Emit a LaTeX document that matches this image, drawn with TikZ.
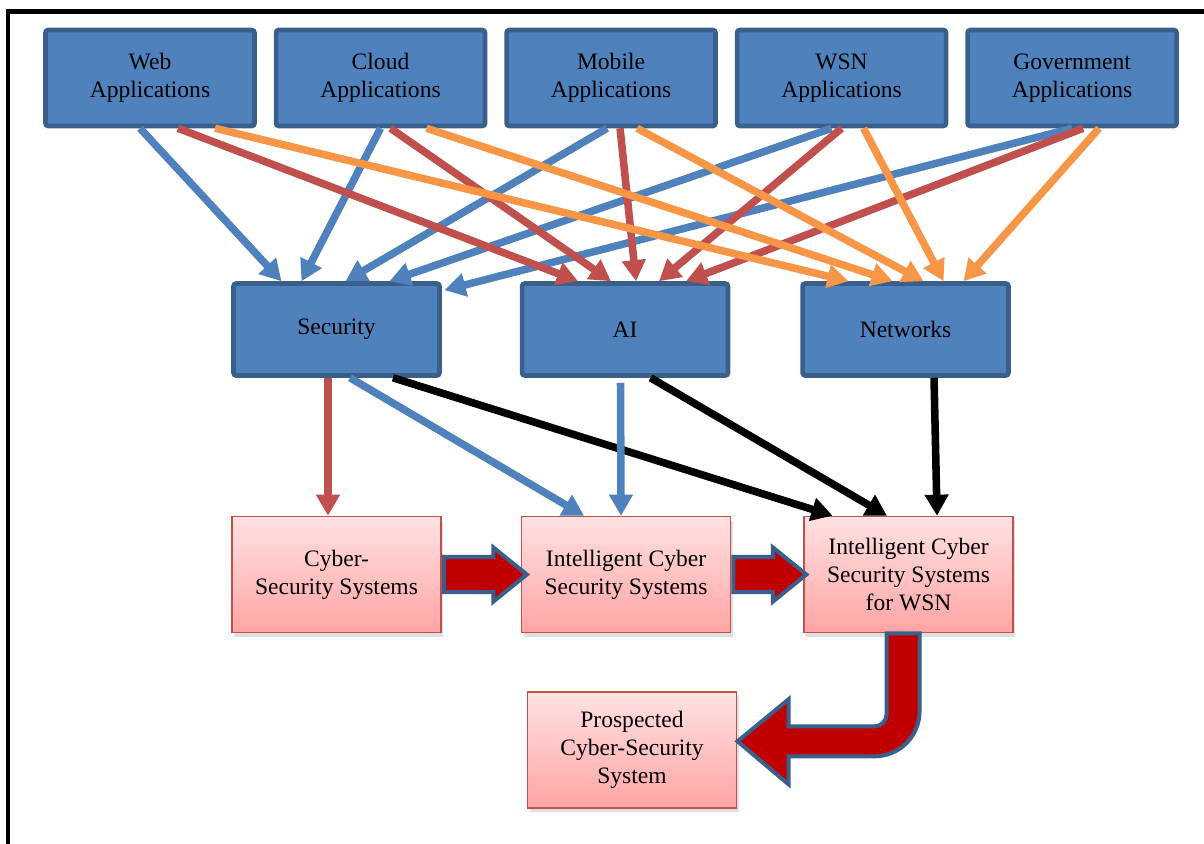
\documentclass[tikz,border=0pt]{standalone}
\usepackage{fontspec}
\setmainfont{Liberation Serif}
\usetikzlibrary{arrows.meta, positioning, calc, shapes.arrows, shadows}
\definecolor{appblue}{RGB}{79,129,189}
\definecolor{appedge}{RGB}{58,95,139}
\definecolor{linkred}{RGB}{192,80,77}
\definecolor{linkorange}{RGB}{247,150,70}
\definecolor{systop}{RGB}{255,226,226}
\definecolor{sysbottom}{RGB}{255,164,164}
\definecolor{blockred}{RGB}{192,0,0}
\newcommand{\boxfont}{\fontsize{13.4}{16}\selectfont}

\begin{document}
\begin{tikzpicture}[
    x=0.02cm, y=-0.02cm,
    appbox/.style={draw=appedge, fill=appblue, line width=2.6pt, rounded corners=1.5pt, minimum width=4.18cm, minimum height=1.92cm, align=center, font=\boxfont},
    fieldbox/.style={appbox, minimum width=4.12cm, minimum height=1.84cm},
    sysbox/.style={draw=linkred, line width=0.9pt, top color=systop, bottom color=sysbottom, drop shadow={opacity=0.25, shadow xshift=1.2pt, shadow yshift=-2.5pt}, minimum width=4.18cm, minimum height=2.32cm, align=center, font=\boxfont},
    link/.style={line width=4.3pt, -{Triangle[length=12pt, width=13pt]}},
    bluelink/.style={link, color=appblue},
    redlink/.style={link, color=linkred},
    orangelink/.style={link, color=linkorange},
    blacklink/.style={link, color=black},
    bigfill/.style={draw=appedge, fill=blockred, line width=2.3pt},
    bigarrow/.style={bigfill, single arrow, inner xsep=0pt, inner ysep=0.31cm, minimum width=0pt, single arrow head extend=0.19cm, single arrow tip angle=78, anchor=tail},
  ]
  \useasboundingbox (0,0) rectangle (1204,844);
  \draw[line width=2.6pt] (8,844) -- (8,11.5) -- (1204,11.5);

  % application areas
  \node[appbox] (web) at (150,78) {Web\\Applications};
  \node[appbox, right=0.34cm of web] (cloud) {Cloud\\Applications};
  \node[appbox, right=0.34cm of cloud] (mobile) {Mobile\\Applications};
  \node[appbox, right=0.34cm of mobile] (wsn) {WSN\\Applications};
  \node[appbox, right=0.34cm of wsn] (gov) {Government\\Applications};

  % fields
  \node[fieldbox] (security) at (336.5,329.5) {Security};
  \node[fieldbox, right=1.56cm of security] (ai) {AI};
  \node[fieldbox, right=1.4cm of ai] (networks) {Networks};

  % systems
  \node[sysbox, below=2.76cm of security] (cyber) {Cyber-\\Security Systems};
  \node[sysbox, right=1.58cm of cyber] (intel) {Intelligent Cyber\\Security Systems};
  \node[sysbox, right=1.44cm of intel] (wsnsys) {Intelligent Cyber\\Security Systems\\for WSN};
  \node[sysbox, below=1.16cm of intel, xshift=0.12cm] (prospect) {Prospected\\Cyber-Security\\System};

  % to Security
  \draw[bluelink] ($(web.south)+(-10,0)$) -- ($(security.north)+(-55,0)$);
  \draw[bluelink] ($(cloud.south)+(0,0)$) -- ($(security.north)+(-35,0)$);
  \draw[bluelink] ($(mobile.south)+(-4,0)$) -- ($(security.north)+(9,0)$);
  \draw[bluelink] ($(wsn.south)+(-10,0)$) -- ($(security.north)+(53,0)$);
  \draw[bluelink] ($(gov.south)+(0,0)$) -- ($(security.north)+(108,9)$);
  % to AI
  \draw[redlink] ($(web.south)+(28,0)$) -- ($(ai.north)+(-47,0)$);
  \draw[redlink] ($(cloud.south)+(10,0)$) -- ($(ai.north)+(-14,0)$);
  \draw[redlink] ($(mobile.south)+(9,0)$) -- ($(ai.north)+(11,0)$);
  \draw[redlink] ($(wsn.south)+(0,0)$) -- ($(ai.north)+(34,0)$);
  \draw[redlink] ($(gov.south)+(11,0)$) -- ($(ai.north)+(61,0)$);
  % to Networks
  \draw[orangelink] ($(web.south)+(65,0)$) -- ($(networks.north)+(-57,0)$);
  \draw[orangelink] ($(cloud.south)+(46,0)$) -- ($(networks.north)+(-13,0)$);
  \draw[orangelink] ($(mobile.south)+(26,0)$) -- ($(networks.north)+(18,0)$);
  \draw[orangelink] ($(wsn.south)+(22,0)$) -- ($(networks.north)+(38,0)$);
  \draw[orangelink] ($(gov.south)+(27,0)$) -- ($(networks.north)+(58,0)$);

  % fields to systems
  \draw[redlink] ($(security.south)+(-8.5,0)$) -- ($(cyber.north)+(-8.5,0)$);
  \draw[bluelink] ($(security.south)+(13.5,0)$) -- ($(intel.north)+(-42,0)$);
  \draw[blacklink] ($(security.south)+(56.5,0)$) -- ($(wsnsys.north)+(-76,0)$);
  \draw[bluelink] ($(ai.south)+(-4.5,5)$) -- ($(intel.north)+(-5,0)$);
  \draw[blacklink] ($(ai.south)+(25.5,0)$) -- ($(wsnsys.north)+(-21.5,0)$);
  \draw[blacklink] ($(networks.south)+(28.5,0)$) -- ($(wsnsys.north)+(28.5,0)$);

  % evolution
  \node[bigarrow, minimum height=1.66cm] (step1) at (cyber.east) {};
  \node[bigarrow, minimum height=1.46cm] (step2) at (intel.east) {};
  \draw[bigfill, shift={(wsnsys.south)}] (-22,0) -- (11,0) -- (11,78)
    arc[start angle=0, end angle=90, radius=45] -- (-120,123) -- (-120,151)
    -- (-171,108) -- (-120,66) -- (-120,93) -- (-34,93)
    arc[start angle=90, end angle=0, radius=12] -- cycle;
\end{tikzpicture}
\end{document}
